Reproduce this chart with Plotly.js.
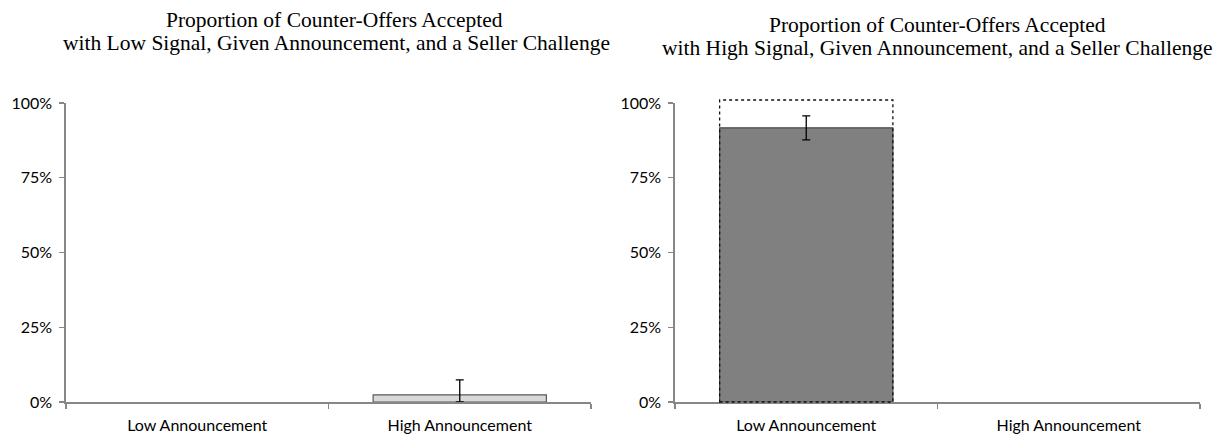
<!DOCTYPE html>
<html>
<head>
<meta charset="utf-8">
<script src="https://cdn.plot.ly/plotly-3.0.1.min.js"></script>
<style>html,body{margin:0;padding:0;background:#fff;}#chart{width:1220px;height:434px;}</style>
</head>
<body>
<div id="chart"></div>
<script>
const categories = ["Low Announcement", "High Announcement"];
const lowSignalValues = [null, 2.4];
const lowSignalErrors = [0, 5.0];
const highSignalValues = [91.7, null];
const highSignalErrors = [4.0, 0];
const highSignalOutline = [101, null];
const yTickVals = [0, 25, 50, 75, 100];
const yTickText = ["0%", "25%", "50%", "75%", "100%"];
const titleLeft = ["Proportion of Counter-Offers Accepted", "with Low Signal, Given Announcement, and a Seller Challenge"];
const titleRight = ["Proportion of Counter-Offers Accepted", "with High Signal, Given Announcement, and a Seller Challenge"];

const BAR_WIDTH = 0.66;
const Y_RANGE = [0, 100];
const axisColor = "#878787";
const tickFont = {family: "Lato, 'Open Sans', sans-serif", size: 16, color: "#000"};

const traces = [
  {
    type: "bar", x: categories, y: lowSignalValues, xaxis: "x", yaxis: "y",
    width: BAR_WIDTH, cliponaxis: false,
    marker: {color: "#d9d9d9", line: {color: "#595959", width: 1.2}},
    error_y: {type: "data", array: lowSignalErrors, arrayminus: [0, lowSignalValues[1]], color: "#000", thickness: 1.3, width: 4, visible: true},
    hoverinfo: "skip", showlegend: false
  },
  {
    type: "bar", x: categories, y: highSignalValues, xaxis: "x2", yaxis: "y2",
    width: BAR_WIDTH, cliponaxis: false,
    marker: {color: "#808080", line: {color: "#4a4a4a", width: 1.2}},
    error_y: {type: "data", array: highSignalErrors, color: "#000", thickness: 1.3, width: 4, visible: true},
    hoverinfo: "skip", showlegend: false
  }
];

// dotted outline box, from the data value, centred on its category (y via the axis range -> domain fraction)
const shapes = [];
highSignalOutline.forEach((v, i) => {
  if (v == null) return;
  shapes.push({
    type: "rect", xref: "x2", yref: "y2 domain",
    x0: i - BAR_WIDTH / 2, x1: i + BAR_WIDTH / 2,
    y0: (0 - Y_RANGE[0]) / (Y_RANGE[1] - Y_RANGE[0]),
    y1: (v - Y_RANGE[0]) / (Y_RANGE[1] - Y_RANGE[0]),
    line: {color: "#111", width: 1.3, dash: "dot"}, fillcolor: "rgba(0,0,0,0)", layer: "above"
  });
});

function xAxis(domain, anchor) {
  return {
    domain: domain, anchor: anchor, type: "category",
    showline: true, linecolor: axisColor, linewidth: 1.6,
    ticks: "outside", tickson: "boundaries", ticklen: 5, tickcolor: axisColor, tickwidth: 1.3,
    ticklabelstandoff: 8,
    tickfont: tickFont, showgrid: false, zeroline: false, fixedrange: true
  };
}
function yAxis(anchor) {
  return {
    anchor: anchor, range: Y_RANGE, tickvals: yTickVals, ticktext: yTickText, tickmode: "array",
    showline: true, linecolor: axisColor, linewidth: 1.6,
    ticks: "outside", ticklen: 5, tickcolor: axisColor, tickwidth: 1.3,
    ticklabelstandoff: 4,
    tickfont: tickFont, showgrid: false, zeroline: false, fixedrange: true
  };
}

const titleFont = {family: "'Liberation Serif', 'DejaVu Serif', serif", size: 21.5, color: "#000"};
function titleAnn(text, x, y) {
  return {text: text, xref: "paper", yref: "paper", x: x, y: y, xanchor: "center", yanchor: "middle",
          showarrow: false, font: titleFont};
}

const layout = {
  width: 1220, height: 434,
  margin: {l: 0, r: 0, t: 103, b: 32},
  paper_bgcolor: "#fff", plot_bgcolor: "#fff",
  barmode: "overlay",
  xaxis: xAxis([66/1220, 591/1220], "y"),
  yaxis: yAxis("x"),
  xaxis2: xAxis([675/1220, 1200/1220], "y2"),
  yaxis2: yAxis("x2"),
  shapes: shapes,
  annotations: [
    titleAnn(titleLeft[0], 334/1220, 1 + (103-20)/299),
    titleAnn(titleLeft[1], 336/1220, 1 + (103-43)/299),
    titleAnn(titleRight[0], 937/1220, 1 + (103-25)/299),
    titleAnn(titleRight[1], 937/1220, 1 + (103-48)/299)
  ]
};

Plotly.newPlot("chart", traces, layout, {displayModeBar: false, staticPlot: true});
</script>
</body>
</html>
